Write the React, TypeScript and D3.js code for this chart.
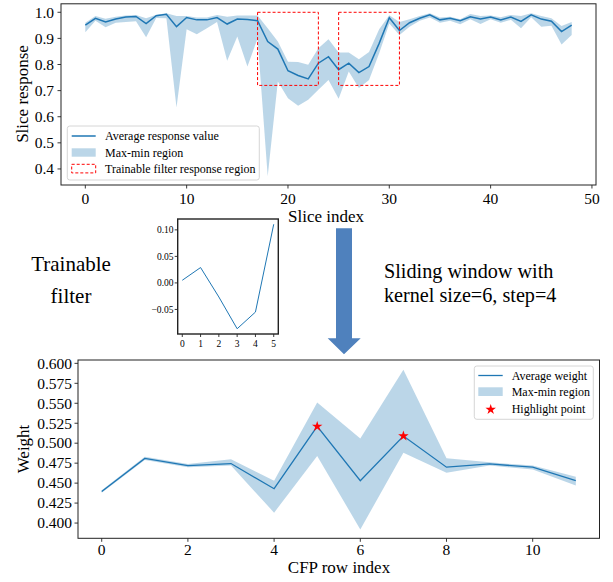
import React from "react";
import * as d3 from "d3";

// top panel: per-slice response (49 slices)
const sliceIdx = d3.range(49);
const respMean = [
  0.951, 0.977, 0.963, 0.974, 0.982, 0.984, 0.957, 0.987, 0.992, 0.945,
  0.98, 0.971, 0.971, 0.98, 0.955, 0.974, 0.972, 0.968, 0.888, 0.859,
  0.776, 0.758, 0.745, 0.805, 0.83, 0.78, 0.805, 0.769, 0.792, 0.881,
  0.979, 0.93, 0.96, 0.977, 0.99, 0.971, 0.977, 0.968, 0.983, 0.974,
  0.982, 0.971, 0.982, 0.965, 0.99, 0.974, 0.966, 0.926, 0.951,
];
const respMax = [
  0.96, 0.986, 0.975, 0.983, 0.988, 0.99, 0.977, 0.991, 0.996, 0.986,
  0.986, 0.98, 0.98, 0.99, 0.983, 0.988, 0.988, 0.988, 0.939, 0.888,
  0.811, 0.81, 0.799, 0.862, 0.897, 0.846, 0.846, 0.82, 0.848, 0.935,
  0.989, 0.963, 0.973, 0.986, 0.996, 0.98, 0.983, 0.973, 0.9935, 0.986,
  0.988, 0.981, 0.99, 0.986, 0.996, 0.986, 0.977, 0.947, 0.963,
];
const respMin = [
  0.924, 0.968, 0.943, 0.96, 0.963, 0.966, 0.904, 0.978, 0.977, 0.635,
  0.935, 0.916, 0.939, 0.963, 0.814, 0.907, 0.792, 0.9, 0.372, 0.735,
  0.671, 0.642, 0.665, 0.703, 0.741, 0.669, 0.773, 0.71, 0.741, 0.843,
  0.957, 0.913, 0.945, 0.968, 0.98, 0.96, 0.968, 0.954, 0.973, 0.955,
  0.973, 0.96, 0.971, 0.939, 0.981, 0.945, 0.948, 0.877, 0.913,
];
// trainable filter windows [x0, x1, y0, y1]
const filterBoxes = [
  [17, 23, 0.72, 1.0],
  [25, 31, 0.72, 1.0],
];
const topXTicks = [0, 10, 20, 30, 40, 50];
const topYTicks = [0.4, 0.5, 0.6, 0.7, 0.8, 0.9, 1.0];

// inset: kernel weights
const kernelIdx = [0, 1, 2, 3, 4, 5];
const kernelW = [0.005, 0.029, -0.0265, -0.0864, -0.055, 0.1106];
const kernelYTicks = [-0.05, 0.0, 0.05, 0.1];

// bottom panel: CFP row weights
const rowIdx = d3.range(12);
const wMean = [0.4395, 0.481, 0.472, 0.4745, 0.443, 0.521, 0.453, 0.509, 0.47, 0.474, 0.47, 0.453];
const wMax = [0.441, 0.483, 0.474, 0.48, 0.453, 0.551, 0.506, 0.592, 0.481, 0.476, 0.472, 0.458];
const wMin = [0.438, 0.479, 0.47, 0.472, 0.413, 0.484, 0.392, 0.488, 0.463, 0.472, 0.467, 0.447];
const highlightIdx = [5, 7];
const botXTicks = [0, 2, 4, 6, 8, 10];
const botYTicks = [0.4, 0.425, 0.45, 0.475, 0.5, 0.525, 0.55, 0.575, 0.6];

const FONT = '"Liberation Serif", "Times New Roman", serif';
const BLUE = "#1f77b4";
const BAND = "#1f77b4";

function Axes({ x, y, xTicks, yTicks, xFmt, yFmt, fs, tickLen, yLabelEnd, xLabelBase, sw }) {
  const [x0, x1] = x.range();
  const [y0, y1] = y.range();
  return (
    <g>
      <rect x={x0} y={y1} width={x1 - x0} height={y0 - y1} fill="none" stroke="#222" strokeWidth={sw} />
      {xTicks.map((t) => (
        <g key={"x" + t}>
          <line x1={x(t)} x2={x(t)} y1={y0} y2={y0 + tickLen} stroke="#222" strokeWidth={0.9} />
          <text x={x(t)} y={xLabelBase} textAnchor="middle" fontSize={fs}>
            {xFmt(t)}
          </text>
        </g>
      ))}
      {yTicks.map((t) => (
        <g key={"y" + t}>
          <line x1={x0 - tickLen} x2={x0} y1={y(t)} y2={y(t)} stroke="#222" strokeWidth={0.9} />
          <text x={yLabelEnd} y={y(t)} dy="0.34em" textAnchor="end" fontSize={fs}>
            {yFmt(t)}
          </text>
        </g>
      ))}
    </g>
  );
}

export default function App() {
  // top
  const xT = d3.scaleLinear().domain([-2.4, 50.4]).range([61, 596]);
  const yT = d3.scaleLinear().domain([0.3385, 1.0325]).range([185, 3.8]);
  const bandT = d3
    .area<number>()
    .x((i) => xT(i))
    .y0((i) => yT(respMin[i]))
    .y1((i) => yT(respMax[i]));
  const lineT = d3
    .line<number>()
    .x((i) => xT(i))
    .y((i) => yT(respMean[i]));

  // inset
  const xI = d3.scaleLinear().domain([-0.25, 5.25]).range([177.7, 278.3]);
  const yI = d3.scaleLinear().domain([-0.0963, 0.1205]).range([334, 219]);
  const lineI = d3
    .line<number>()
    .x((i) => xI(i))
    .y((i) => yI(kernelW[i]));

  // bottom
  const xB = d3.scaleLinear().domain([-0.55, 11.55]).range([78, 599.5]);
  const yB = d3.scaleLinear().domain([0.3809, 0.6042]).range([538.3, 360]);
  const bandB = d3
    .area<number>()
    .x((i) => xB(i))
    .y0((i) => yB(wMin[i]))
    .y1((i) => yB(wMax[i]));
  const lineB = d3
    .line<number>()
    .x((i) => xB(i))
    .y((i) => yB(wMean[i]));
  const star = d3.symbol().type(d3.symbolStar).size(34);

  return (
    <svg
      width={613}
      height={582}
      style={{ position: "absolute", left: 0, top: 0, background: "#fff" }}
      fontFamily={FONT}
    >
      {/* ---------- top chart ---------- */}
      <path d={bandT(sliceIdx) || ""} fill={BAND} fillOpacity={0.3} stroke="none" />
      <path d={lineT(sliceIdx) || ""} fill="none" stroke={BLUE} strokeWidth={1.5} />
      {filterBoxes.map((b, k) => (
        <rect
          key={k}
          x={xT(b[0])}
          y={yT(b[3])}
          width={xT(b[1]) - xT(b[0])}
          height={yT(b[2]) - yT(b[3])}
          fill="none"
          stroke="red"
          strokeWidth={1}
          strokeDasharray="3,2"
        />
      ))}
      <Axes
        x={xT}
        y={yT}
        xTicks={topXTicks}
        yTicks={topYTicks}
        xFmt={(t) => String(t)}
        yFmt={(t) => t.toFixed(1)}
        fs={15.5}
        tickLen={3.5}
        yLabelEnd={54}
        xLabelBase={204}
        sw={1}
      />
      <text x={326} y={222} textAnchor="middle" fontSize={17}>
        Slice index
      </text>
      <text transform="translate(28,94) rotate(-90)" textAnchor="middle" fontSize={17}>
        Slice response
      </text>
      {/* top legend */}
      <g fontSize={12}>
        <rect x={67.3} y={126} width={192} height={54} rx={2.5} fill="#fff" fillOpacity={0.8} stroke="#ccc" strokeWidth={0.8} />
        <line x1={71.7} x2={95.7} y1={136} y2={136} stroke={BLUE} strokeWidth={1.5} />
        <text x={105} y={136} dy="0.35em">Average response value</text>
        <rect x={71.7} y={148.3} width={24} height={8.4} fill={BAND} fillOpacity={0.3} />
        <text x={105} y={152.5} dy="0.35em">Max-min region</text>
        <rect x={71.7} y={164.3} width={24} height={8.6} fill="none" stroke="red" strokeWidth={1} strokeDasharray="3,2" />
        <text x={105} y={169} dy="0.35em">Trainable filter response region</text>
      </g>

      {/* ---------- middle ---------- */}
      <text x={71} y={271} textAnchor="middle" fontSize={21}>
        Trainable
      </text>
      <text x={71} y={303} textAnchor="middle" fontSize={21}>
        filter
      </text>
      <rect x={177.7} y={219} width={100.6} height={115} fill="#fff" />
      <path d={lineI(kernelIdx) || ""} fill="none" stroke={BLUE} strokeWidth={1} />
      <Axes
        x={xI}
        y={yI}
        xTicks={kernelIdx}
        yTicks={kernelYTicks}
        xFmt={(t) => String(t)}
        yFmt={(t) => (t < 0 ? "\u2212" + Math.abs(t).toFixed(2) : t.toFixed(2))}
        fs={9.5}
        tickLen={3}
        yLabelEnd={173.5}
        xLabelBase={347}
        sw={1.4}
      />
      <path
        d="M336,228.3 L352,228.3 L352,338.3 L360.7,338.3 L344,354.3 L327.7,338.3 L336,338.3 Z"
        fill="#4f81bd"
      />
      <text x={384} y={278.3} fontSize={20.2}>
        Sliding window with
      </text>
      <text x={384} y={301.5} fontSize={20.2}>
        kernel size=6, step=4
      </text>

      {/* ---------- bottom chart ---------- */}
      <path d={bandB(rowIdx) || ""} fill={BAND} fillOpacity={0.3} stroke="none" />
      <path d={lineB(rowIdx) || ""} fill="none" stroke={BLUE} strokeWidth={1.3} />
      {highlightIdx.map((i) => (
        <path key={i} d={star() || ""} transform={`translate(${xB(i)},${yB(wMean[i])})`} fill="red" />
      ))}
      <Axes
        x={xB}
        y={yB}
        xTicks={botXTicks}
        yTicks={botYTicks}
        xFmt={(t) => String(t)}
        yFmt={(t) => t.toFixed(3)}
        fs={15.5}
        tickLen={3.5}
        yLabelEnd={72}
        xLabelBase={555}
        sw={1}
      />
      <text x={339} y={573} textAnchor="middle" fontSize={17}>
        CFP row index
      </text>
      <text transform="translate(29,449) rotate(-90)" textAnchor="middle" fontSize={17}>
        Weight
      </text>
      {/* bottom legend */}
      <g fontSize={12}>
        <rect x={474.3} y={366} width={119} height={53.3} rx={2.5} fill="#fff" fillOpacity={0.8} stroke="#ccc" strokeWidth={0.8} />
        <line x1={478.3} x2={502.7} y1={375.5} y2={375.5} stroke={BLUE} strokeWidth={1.3} />
        <text x={511.7} y={375.5} dy="0.35em">Average weight</text>
        <rect x={478.3} y={387.3} width={24.4} height={8.7} fill={BAND} fillOpacity={0.3} />
        <text x={511.7} y={392} dy="0.35em">Max-min region</text>
        <path d={star() || ""} transform="translate(490.7,409.5)" fill="red" />
        <text x={511.7} y={409} dy="0.35em">Highlight point</text>
      </g>
    </svg>
  );
}
